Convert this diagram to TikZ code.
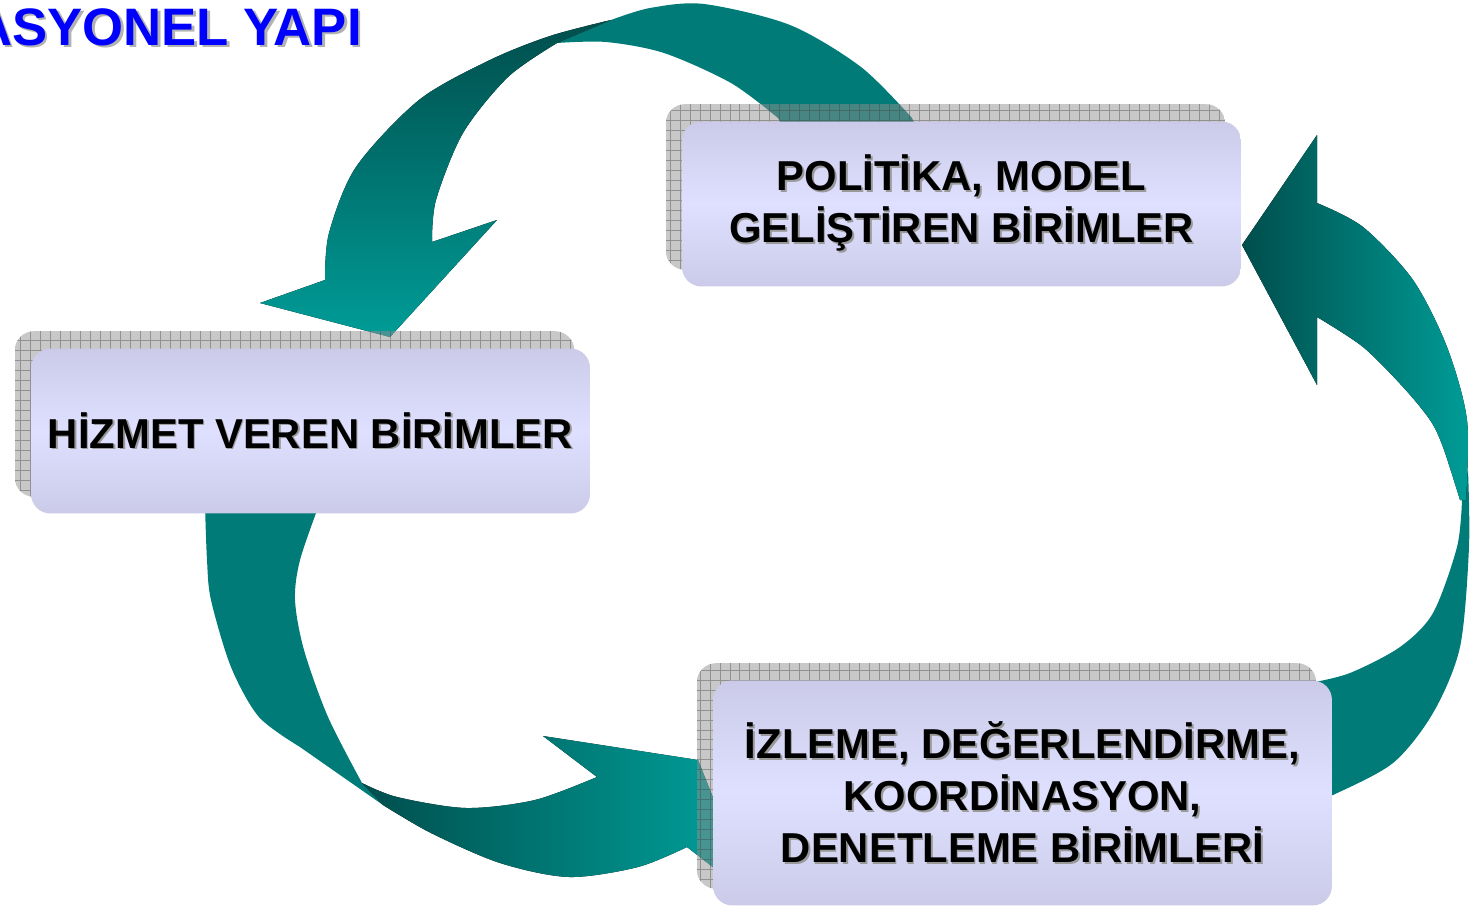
\documentclass[tikz,border=0pt]{standalone}
\usepackage{fontspec}
\setmainfont{Liberation Sans}
\definecolor{tealmid}{HTML}{007B78}
\definecolor{tealdark}{HTML}{004E4C}
\definecolor{teallight}{HTML}{009C97}
\definecolor{boxedge}{HTML}{CBCBE9}
\definecolor{boxmid}{HTML}{DFDFFF}
\newcommand\shtxt[1]{\rlap{\kern1pt\raisebox{-1pt}{\color{black!40}#1}}#1}
\newcommand\unitshadow[1]{%
  \begin{scope}
    \clip[rounded corners=11pt] ([shift={(-16,-17)}]#1.south west) rectangle ([shift={(-16,-17)}]#1.north east);
    \fill[black!43,opacity=.5] ([shift={(-16,-17)}]#1.south west) rectangle ([shift={(-16,-17)}]#1.north east);
    \draw[black!75,opacity=.4,step=0.2cm] ([shift={(-16,-17)}]#1.south west) grid ([shift={(-16,-17)}]#1.north east);
  \end{scope}}
\pgfdeclarelayer{arrowlayer}
\pgfdeclarelayer{shadowlayer}
\pgfsetlayers{arrowlayer,shadowlayer,main}
\tikzset{
  unit/.style={rounded corners=11pt,top color=boxedge,bottom color=boxedge,middle color=boxmid,
    inner sep=0pt,align=center,font=\fontsize{23.8}{29.5}\selectfont\bfseries},
}
\begin{document}
\begin{tikzpicture}[x=0.02cm,y=-0.02cm]
\useasboundingbox (0,0) rectangle (1474,906);
\clip (0,0) rectangle (1474,906);
% title
\node[anchor=base east,inner sep=0pt,font=\fontsize{30}{36}\selectfont\bfseries] (baslik) at (362,45)
  {\rlap{\kern1.6pt\raisebox{-1.6pt}{\color{black!30}ASYONEL YAPI}}\color{blue}ASYONEL YAPI};
% units
\node[unit,minimum width=11.18cm,minimum height=3.3cm] (politika) at (961.5,204)
  {\shtxt{POLİTİKA, MODEL}\\\shtxt{GELİŞTİREN BİRİMLER}};
\node[unit,minimum width=11.18cm,minimum height=3.3cm] (hizmet) at (310.5,431)
  {\shtxt{HİZMET VEREN BİRİMLER}};
\node[unit,minimum width=12.38cm,minimum height=4.5cm] (izleme) at (1022.5,793)
  {\shtxt{İZLEME, DEĞERLENDİRME,}\\\shtxt{KOORDİNASYON,}\\\shtxt{DENETLEME BİRİMLERİ}};
\begin{pgfonlayer}{shadowlayer}
\unitshadow{politika}
\unitshadow{hizmet}
\unitshadow{izleme}
\end{pgfonlayer}
\begin{pgfonlayer}{arrowlayer}
% politika -> hizmet
\fill[tealmid] (920,135) -- plot[smooth] coordinates {(912,118) (861,67) (790,25) (704,4) (650,8) (611,20)}
  -- (557,43) -- plot[smooth] coordinates {(557,43) (606,42) (664,53) (731,83) (778,118)} -- (788,135) -- cycle;
\fill[top color=tealdark,bottom color=teallight] (611,20)
  -- plot[smooth] coordinates {(611,20) (550,36) (490,60) (419,100) (356,167) (329,233) (325,280)}
  -- (260,303) -- (390,337) -- (497,220) -- (432,242)
  -- plot[smooth] coordinates {(432,242) (436,200) (463,133) (508,77) (557,43)} -- cycle;
% hizmet -> izleme
\fill[tealmid] (205,500) -- plot[smooth] coordinates {(205,505) (207,560) (211,600) (231,667) (259,717) (300,747)}
  -- (383,805) -- (362,783) -- plot[smooth] coordinates {(362,783) (328,717) (304,650) (295,600) (300,560) (319,505)}
  -- (321,500) -- cycle;
\fill[left color=tealdark,right color=teallight] (362,783)
  -- plot[smooth] coordinates {(362,783) (397,797) (466,808) (535,800) (597,777)}
  -- (543,736) -- (698,760) -- (720,815) -- (714,868) -- (687,847)
  -- plot[smooth] coordinates {(687,847) (638,867) (569,877) (500,863) (431,833) (383,805)} -- cycle;
% izleme -> politika
\fill[tealmid] (1468,470) -- plot[smooth] coordinates {(1468,470) (1469,547) (1460,647) (1433,713) (1393,763) (1333,795) (1310,803)}
  -- (1310,683) -- plot[smooth] coordinates {(1310,683) (1350,673) (1400,647) (1433,613) (1457,547) (1462,500)} -- cycle;
\fill[left color=tealdark,right color=teallight] (1466,500)
  -- plot[smooth] coordinates {(1466,500) (1467,420) (1447,347) (1413,280) (1363,227) (1317,203)}
  -- (1317,135) -- (1242,245) -- (1317,385) -- (1317,317)
  -- plot[smooth] coordinates {(1317,317) (1363,347) (1403,387) (1430,420) (1443,447) (1460,500)} -- cycle;
\end{pgfonlayer}
\end{tikzpicture}
\end{document}
